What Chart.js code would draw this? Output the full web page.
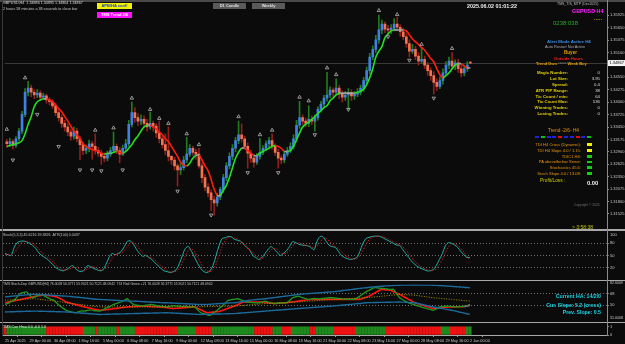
<!DOCTYPE html>
<html><head><meta charset="utf-8">
<script src="https://cdn.jsdelivr.net/npm/chart.js@4.4.1/dist/chart.umd.min.js"></script>
<style>
body{margin:0;background:#0b0b0b;width:625px;height:344px;overflow:hidden;position:relative;font-family:"Liberation Sans",Arial,sans-serif}
canvas{position:absolute;left:0}
.t{position:absolute;white-space:nowrap;line-height:1;font-size:4px;color:#ddd}
.b{font-weight:bold}
.r{text-align:right}
.ln{position:absolute;background:#9a9a9a}
.sq{position:absolute;height:2.5px;width:4px}
.row{font-size:4.3px}
.tr{font-size:4.1px;color:#e8950f}
</style></head><body>
<canvas id="cMain" width="625" height="229" style="top:0"></canvas>
<canvas id="cSto" width="625" height="49" style="top:231px"></canvas>
<canvas id="cTdi" width="625" height="41" style="top:281px"></canvas>
<canvas id="cHa" width="625" height="21" style="top:323px"></canvas>

<div class="ln" style="left:0;top:0;width:625px;height:1.5px;background:#4a4a4a"></div>
<div class="ln" style="left:0;top:229px;width:625px;height:2px;background:#a8a8a8"></div>
<div class="ln" style="left:0;top:280px;width:625px;height:1px;background:#a8a8a8"></div>
<div class="ln" style="left:0;top:322px;width:625px;height:1px;background:#a8a8a8"></div>
<div class="ln" style="left:2px;top:0;width:1px;height:336px;background:#3a3a3a"></div>

<div class="t" style="left:3px;top:2px;font-size:3.7px;color:#d8d8d8">GBPUSD,H4&nbsp; 1.34886 1.34895 1.34864 1.34867</div>
<div class="t" style="left:3px;top:7.5px;font-size:3.7px;color:#c8c8c8">2 hours 58 minutes a 38 seconds to close bar</div>
<div class="t b" style="left:97px;top:3px;width:35px;height:6px;background:#f2f200;color:#1a3ad0;text-align:center;line-height:6px">APB/HA conf!</div>
<div class="t b" style="left:97px;top:12px;width:35px;height:6px;background:#ff10ff;color:#fff;text-align:center;line-height:6px">TMS Trend 2/6</div>
<div class="t b" style="left:213px;top:3px;width:33px;height:6px;background:#5a5a5a;color:#e0e0e0;text-align:center;line-height:6px">D1 Candle</div>
<div class="t b" style="left:252px;top:3px;width:33px;height:6px;background:#5a5a5a;color:#e0e0e0;text-align:center;line-height:6px">Weekly</div>
<div class="t b" style="left:467px;top:3.5px;font-size:5.4px;color:#f0f0f0">2025.06.02 01:01:22</div>
<div class="t" style="left:557px;top:2.5px;font-size:3.5px;color:#bbb">TMS_TIS_MTP (Dec2025)</div>
<div class="t b" style="left:572px;top:8.5px;font-size:5.4px;color:#ff20ff">GBPUSD H4</div>
<div class="t" style="left:553px;top:20px;font-size:6px;color:#22b022">0238:038</div>
<div class="t b" style="left:594px;top:17px;font-size:5px;color:#b8a000">·····</div>

<div class="t b" style="left:547px;top:39.5px;font-size:4.4px;color:#3a8ee6">Alert Mode Active H4</div>
<div class="t" style="left:545px;top:45px;font-size:3.9px;color:#a8a8a8">Auto Restart Not Active</div>
<div class="t b" style="left:564px;top:50.5px;font-size:4.6px;color:#e2a000">Buyer</div>
<div class="t b" style="left:554px;top:56.5px;font-size:4.2px;color:#ff1e1e">Outside Hours</div>
<div class="t b" style="left:536px;top:62px;font-size:4.1px;color:#e2a000">Trend Dwn <span style="color:#888">°°°°°</span> Weak Buy</div>

<div class="t b r row" style="right:57px;top:71px;color:#e0d000">Magic Number:</div><div class="t r row" style="right:25px;top:71px">0</div>
<div class="t b r row" style="right:57px;top:77px;color:#e0d000">Lot Size:</div><div class="t r row" style="right:25px;top:77px">3.95</div>
<div class="t b r row" style="right:57px;top:82.5px;color:#e0d000">Spread:</div><div class="t r row" style="right:25px;top:82.5px">0.4</div>
<div class="t b r row" style="right:57px;top:89px;color:#e0d000">ATR PIP Range:</div><div class="t r row" style="right:25px;top:89px">38</div>
<div class="t b r row" style="right:57px;top:94.5px;color:#e0d000">Tic Count / min:</div><div class="t r row" style="right:25px;top:94.5px">64</div>
<div class="t b r row" style="right:57px;top:100px;color:#e0d000">Tic Count Max:</div><div class="t r row" style="right:25px;top:100px">536</div>
<div class="t b r row" style="right:57px;top:106px;color:#e0d000">Winning Trades:</div><div class="t r row" style="right:25px;top:106px">0</div>
<div class="t b r row" style="right:57px;top:112px;color:#e0d000">Losing Trades:</div><div class="t r row" style="right:25px;top:112px">0</div>

<div class="t" style="left:548px;top:128.5px;font-size:4.8px;color:#e8950f">Trend -2/6- H4</div>
<div class="sq" style="left:535px;top:135.5px;background:#2020e0"></div>
<div class="sq" style="left:540.8px;top:135.5px;background:#10c010"></div>
<div class="sq" style="left:546.6px;top:135.5px;background:#2020e0"></div>
<div class="sq" style="left:552.4px;top:135.5px;background:#2020e0"></div>
<div class="sq" style="left:558.2px;top:135.5px;background:#e01010"></div>
<div class="sq" style="left:564px;top:135.5px;background:#2020e0"></div>
<div class="sq" style="left:569.8px;top:135.5px;background:#2020e0"></div>
<div class="sq" style="left:575.6px;top:135.5px;background:#e01010"></div>
<div class="sq" style="left:581.4px;top:135.5px;background:#2020e0"></div>
<div class="sq" style="left:587.2px;top:135.5px;background:#10c010"></div>

<div class="t r tr" style="right:44px;top:142.5px">TDI H4 Cross (Dynamic):</div><div class="sq" style="left:587px;top:143px;width:5px;background:#f0f000"></div>
<div class="t r tr" style="right:44px;top:148.5px">TDI H4 Slope 4.0 / 1.15:</div><div class="sq" style="left:587px;top:149px;width:5px;background:#f0f000"></div>
<div class="t r tr" style="right:44px;top:154.5px">TDIC1 H4:</div><div class="sq" style="left:587px;top:155px;width:5px;background:#10d010"></div>
<div class="t r tr" style="right:44px;top:160px">PA above/below Senor:</div><div class="sq" style="left:587px;top:160.5px;width:5px;background:#10d010"></div>
<div class="t r tr" style="right:44px;top:165.5px">Stochastics 45.6:</div><div class="sq" style="left:587px;top:166px;width:5px;background:#10d010"></div>
<div class="t r tr" style="right:44px;top:171.5px">Stoch Slope 4.0 / 13.08:</div><div class="sq" style="left:587px;top:172px;width:5px;background:#10d010"></div>
<div class="t" style="left:540px;top:179px;font-size:4.8px;color:#c8c800">Profit/Loss :</div>
<div class="t b" style="left:587px;top:181px;font-size:5.8px;color:#f4f4f4">0.00</div>
<div class="t" style="left:574px;top:204px;font-size:3.3px;color:#707070">Copyright © 2025</div>
<div class="t" style="left:572px;top:225px;font-size:5px;color:#c8c800">&gt; 3:58:38</div>

<div class="t" style="left:3px;top:234px;font-size:3.6px;color:#c0c0c0">Stoch(5,3,3) 45.6216 39.3826&nbsp;&nbsp;ATR(100) 0.0037</div>
<div class="t" style="left:3px;top:283px;font-size:3.4px;color:#c0c0c0">TMS Stoch-Dep GBPUSD(H4) 76.0028 56.3771 55.9021 50.7121 48.0942&nbsp;&nbsp;TDI Red Green +21 76.0028 56.3771 55.9021 50.7121 48.0942</div>
<div class="t" style="left:610px;top:281.5px;font-size:3.6px;color:#c8c8c8">82.6009</div>
<div class="t" style="left:610px;top:316.5px;font-size:3.6px;color:#c8c8c8">31.0008</div>
<div class="t b r" style="right:24px;top:294px;font-size:5.2px;color:#1cd4e6">Current HA: 14/2/0</div>
<div class="t b r" style="right:24px;top:302.5px;font-size:5.2px;color:#1cd4e6">Cur. Slope: 5.2 (cross)</div>
<div class="t b r" style="right:24px;top:310px;font-size:5.2px;color:#1cd4e6">Prev. Slope: 0.5</div>
<div class="t" style="left:3px;top:325.5px;font-size:3.6px;color:#e8e8e8">TMS Con Hma 0.0 -0.0 1.0</div>

<script>
const timeLabels=["25 Apr 2025","29 Apr 00:00","30 Apr 08:00","1 May 16:00","5 May 00:00","6 May 08:00","7 May 16:00","9 May 00:00","12 May 08:00","13 May 16:00","15 May 00:00","16 May 08:00","19 May 16:00","21 May 00:00","22 May 08:00","23 May 16:00","27 May 00:00","28 May 08:00","29 May 16:00","2 Jun 00:00"];
const priceTicks=[1.35925,1.35650,1.35375,1.35100,1.34825,1.34550,1.34275,1.34000,1.33725,1.33450,1.33175,1.32900,1.32625,1.32350,1.32075,1.31800,1.31525];
const curPrice=1.34867;

const opens=[1.3312,1.3308,1.3313,1.3304,1.3319,1.3336,1.3373,1.3422,1.3431,1.3422,
1.3416,1.3420,1.3411,1.3414,1.3405,1.3401,1.3392,1.3377,1.3366,1.3353,
1.3345,1.3334,1.3325,1.3336,1.3319,1.3306,1.3293,1.3298,1.3308,1.3302,
1.3293,1.3287,1.3280,1.3276,1.3285,1.3293,1.3302,1.3293,1.3285,1.3298,
1.3308,1.3351,1.3377,1.3366,1.3358,1.3362,1.3353,1.3345,1.3353,1.3347,
1.3332,1.3319,1.3306,1.3293,1.3280,1.3272,1.3259,1.3250,1.3255,1.3272,
1.3285,1.3298,1.3289,1.3285,1.3259,1.3233,1.3212,1.3199,1.3184,1.3177,
1.3190,1.3207,1.3233,1.3259,1.3280,1.3298,1.3315,1.3328,1.3319,1.3302,
1.3287,1.3276,1.3267,1.3280,1.3289,1.3298,1.3308,1.3315,1.3302,1.3289,
1.3276,1.3272,1.3285,1.3293,1.3302,1.3319,1.3349,1.3366,1.3358,1.3353,
1.3362,1.3358,1.3366,1.3384,1.3396,1.3409,1.3416,1.3427,1.3422,1.3431,
1.3418,1.3411,1.3416,1.3422,1.3414,1.3418,1.3422,1.3431,1.3448,1.3470,
1.3500,1.3517,1.3538,1.3560,1.3573,1.3562,1.3560,1.3564,1.3573,1.3566,
1.3556,1.3545,1.3530,1.3513,1.3517,1.3502,1.3491,1.3495,1.3482,1.3470,
1.3459,1.3444,1.3435,1.3448,1.3465,1.3482,1.3491,1.3480,1.3487,1.3474,
1.3465,1.3474,1.34886];
const highs=[1.3318,1.3320,1.3317,1.3324,1.3342,1.3380,1.3430,1.3446,1.3438,1.3428,
1.3428,1.3426,1.3420,1.3418,1.3410,1.3406,1.3398,1.3384,1.3372,1.3360,
1.3352,1.3340,1.3345,1.3342,1.3325,1.3312,1.3305,1.3316,1.3313,1.3330,
1.3300,1.3294,1.3288,1.3292,1.3300,1.3334,1.3308,1.3300,1.3305,1.3318,
1.3360,1.3400,1.3388,1.3375,1.3372,1.3370,1.3362,1.3378,1.3358,1.3352,
1.3358,1.3325,1.3330,1.3346,1.3282,1.3278,1.3264,1.3264,1.3280,1.3322,
1.3306,1.3302,1.3296,1.3298,1.3265,1.3240,1.3220,1.3206,1.3192,1.3198,
1.3212,1.3240,1.3266,1.3288,1.3306,1.3322,1.3358,1.3352,1.3325,1.3310,
1.3294,1.3284,1.3286,1.3320,1.3304,1.3314,1.3322,1.3330,1.3308,1.3296,
1.3282,1.3292,1.3300,1.3310,1.3328,1.3360,1.3402,1.3372,1.3365,1.3392,
1.3370,1.3372,1.3390,1.3402,1.3415,1.3466,1.3434,1.3432,1.3452,1.3438,
1.3426,1.3424,1.3430,1.3428,1.3424,1.3430,1.3438,1.3455,1.3478,1.3508,
1.3525,1.3548,1.3593,1.3582,1.3578,1.3570,1.3572,1.3585,1.3588,1.3572,
1.3564,1.3552,1.3538,1.3528,1.3524,1.3510,1.3520,1.3502,1.3488,1.3476,
1.3468,1.3452,1.3456,1.3474,1.3490,1.3500,1.3510,1.3494,1.3495,1.3482,
1.3482,1.3490,1.34895];
const lows=[1.3300,1.3302,1.3296,1.3300,1.3314,1.3330,1.3368,1.3414,1.3412,1.3408,
1.3410,1.3404,1.3406,1.3398,1.3394,1.3386,1.3370,1.3358,1.3344,1.3336,
1.3326,1.3316,1.3318,1.3312,1.3272,1.3284,1.3286,1.3290,1.3274,1.3285,
1.3280,1.3262,1.3268,1.3270,1.3280,1.3288,1.3286,1.3266,1.3282,1.3292,
1.3302,1.3345,1.3355,1.3348,1.3350,1.3344,1.3336,1.3340,1.3336,1.3322,
1.3310,1.3298,1.3284,1.3270,1.3262,1.3250,1.3214,1.3240,1.3250,1.3266,
1.3280,1.3282,1.3274,1.3254,1.3222,1.3204,1.3190,1.3160,1.3150,1.3170,
1.3184,1.3200,1.3226,1.3252,1.3272,1.3290,1.3308,1.3312,1.3296,1.3254,
1.3266,1.3256,1.3262,1.3274,1.3284,1.3292,1.3300,1.3296,1.3282,1.3254,
1.3264,1.3266,1.3280,1.3288,1.3296,1.3312,1.3342,1.3350,1.3346,1.3346,
1.3350,1.3336,1.3360,1.3378,1.3390,1.3402,1.3410,1.3412,1.3416,1.3408,
1.3400,1.3404,1.3384,1.3404,1.3406,1.3412,1.3416,1.3424,1.3442,1.3462,
1.3494,1.3510,1.3530,1.3552,1.3554,1.3550,1.3552,1.3558,1.3558,1.3546,
1.3538,1.3522,1.3500,1.3508,1.3494,1.3482,1.3486,1.3474,1.3460,1.3448,
1.3418,1.3426,1.3430,1.3440,1.3458,1.3474,1.3472,1.3472,1.3466,1.3456,
1.3458,1.3468,1.34864];
const closes=[1.3308,1.3313,1.3304,1.3319,1.3336,1.3373,1.3422,1.3431,1.3422,1.3416,
1.3420,1.3411,1.3414,1.3405,1.3401,1.3392,1.3377,1.3366,1.3353,1.3345,
1.3334,1.3325,1.3336,1.3319,1.3306,1.3293,1.3298,1.3308,1.3302,1.3293,
1.3287,1.3280,1.3276,1.3285,1.3293,1.3302,1.3293,1.3285,1.3298,1.3308,
1.3351,1.3377,1.3366,1.3358,1.3362,1.3353,1.3345,1.3353,1.3347,1.3332,
1.3319,1.3306,1.3293,1.3280,1.3272,1.3259,1.3250,1.3255,1.3272,1.3285,
1.3298,1.3289,1.3285,1.3259,1.3233,1.3212,1.3199,1.3184,1.3177,1.3190,
1.3207,1.3233,1.3259,1.3280,1.3298,1.3315,1.3328,1.3319,1.3302,1.3287,
1.3276,1.3267,1.3280,1.3289,1.3298,1.3308,1.3315,1.3302,1.3289,1.3276,
1.3272,1.3285,1.3293,1.3302,1.3319,1.3349,1.3366,1.3358,1.3353,1.3362,
1.3358,1.3366,1.3384,1.3396,1.3409,1.3416,1.3427,1.3422,1.3431,1.3418,
1.3411,1.3416,1.3422,1.3414,1.3418,1.3422,1.3431,1.3448,1.3470,1.3500,
1.3517,1.3538,1.3560,1.3573,1.3562,1.3560,1.3564,1.3573,1.3566,1.3556,
1.3545,1.3530,1.3513,1.3517,1.3502,1.3491,1.3495,1.3482,1.3470,1.3459,
1.3444,1.3435,1.3448,1.3465,1.3482,1.3491,1.3480,1.3487,1.3474,1.3465,
1.3474,1.3482,1.34867];
const trendMA=[1.3302,1.3304,1.3306,1.3308,1.3310,1.3315,1.3330,1.3351,1.3368,1.3390,
1.3401,1.3405,1.3407,1.3407,1.3405,1.3401,1.3394,1.3386,1.3379,1.3368,
1.3358,1.3347,1.3336,1.3328,1.3319,1.3308,1.3302,1.3298,1.3295,1.3293,
1.3291,1.3287,1.3285,1.3287,1.3287,1.3289,1.3291,1.3289,1.3287,1.3291,
1.3298,1.3306,1.3317,1.3325,1.3336,1.3345,1.3349,1.3349,1.3345,1.3341,
1.3334,1.3328,1.3319,1.3313,1.3302,1.3291,1.3280,1.3267,1.3261,1.3259,
1.3265,1.3276,1.3282,1.3282,1.3272,1.3259,1.3248,1.3229,1.3207,1.3194,
1.3194,1.3205,1.3216,1.3233,1.3255,1.3276,1.3289,1.3298,1.3298,1.3293,
1.3287,1.3282,1.3282,1.3287,1.3291,1.3295,1.3298,1.3302,1.3304,1.3302,
1.3298,1.3291,1.3291,1.3293,1.3302,1.3317,1.3332,1.3345,1.3351,1.3356,
1.3362,1.3368,1.3375,1.3381,1.3388,1.3392,1.3403,1.3409,1.3416,1.3420,
1.3420,1.3420,1.3420,1.3420,1.3420,1.3422,1.3424,1.3429,1.3439,1.3454,
1.3474,1.3500,1.3513,1.3523,1.3543,1.3551,1.3558,1.3560,1.3560,1.3560,
1.3560,1.3558,1.3549,1.3540,1.3534,1.3528,1.3521,1.3515,1.3506,1.3497,
1.3489,1.3474,1.3461,1.3454,1.3459,1.3465,1.3474,1.3482,1.3485,1.3485,
1.3480,1.3476,1.3476];
const upMarkBars=[0,6,29,35,41,47,50,53,59,63,76,83,87,96,99,105,108,122,128,136,146];
const upMarkVals=[1.3340,1.3454,1.3338,1.3343,1.3409,1.3384,1.3364,1.3353,1.3330,1.3306,1.3368,1.3328,1.3338,1.3411,1.3403,1.3476,1.3461,1.3603,1.3594,1.3528,1.3519];
const dnMarkBars=[2,10,17,24,28,31,38,56,67,79,89,101,112,125,132,140];
const dnMarkVals=[1.3272,1.3373,1.3302,1.3250,1.3250,1.3248,1.3250,1.3203,1.3150,1.3244,1.3244,1.3328,1.3384,1.3545,1.3493,1.3409];

const stochMain=[55,52,50,70,82,85,86,84,80,75,68,57,50,45,40,32,25,18,14,12,
15,20,25,18,12,10,15,25,22,18,15,12,14,28,45,55,52,55,60,72,
85,86,78,65,55,48,50,45,40,32,25,18,12,10,8,10,15,30,50,68,
72,60,45,30,18,10,8,12,25,50,75,92,94,97,96,90,88,85,78,70,
64,50,45,40,45,55,65,72,65,58,50,55,62,72,84,82,78,76,75,74,
70,64,85,97,96,85,75,72,70,60,50,45,42,40,42,45,60,80,92,95,
97,98,98,96,92,88,84,80,76,75,65,55,45,35,28,22,18,15,12,12,
15,25,40,55,75,82,80,76,70,60,52,45,45.6];
const stochSignal=[52,53,52,57,67,79,84,85,83,80,74,67,58,51,45,39,32,25,19,15,
14,16,20,21,18,13,12,17,21,22,18,15,14,18,29,43,51,54,56,62,
72,81,83,76,66,56,51,48,44,39,32,25,18,13,10,9,11,18,32,49,
63,67,59,45,31,19,12,10,15,29,50,72,87,94,96,94,91,86,80,71,
64,57,50,45,43,47,55,64,67,65,58,54,56,63,73,79,81,79,76,75,
73,69,73,82,93,93,85,77,72,67,60,52,46,42,41,42,49,62,77,89,
95,97,98,97,95,92,88,84,80,77,72,65,55,45,36,28,23,18,15,13,
13,17,27,40,57,71,79,79,75,68,58,48,39.4];

const tdiUpper=[62.8,63.3,63.8,64.3,64.8,65.2,65.6,66,66.4,66.7,66.7,66.6,66.4,66.1,65.8,65.5,65.2,64.9,64.6,64.3,
64,63.6,63.1,62.7,62.2,61.7,61.2,60.7,60.2,59.7,59.3,59,58.7,58.5,58.2,57.9,57.6,57.4,57.1,56.9,
56.6,56.4,56.4,56.1,55.9,55.6,55.4,55.1,54.9,54.6,54.4,54.1,53.9,53.8,53.5,53.3,53.1,52.8,52.6,52.4,
52.1,51.9,51.6,51.4,51.3,51.3,51.4,51.6,51.9,52.2,52.5,52.8,53.1,53.4,53.6,53.8,54.5,55.3,56.1,56.9,
57.6,58.2,58.7,59.2,59.6,60,60.6,61.2,61.8,62.4,63,63.6,64.2,64.8,65.4,66,66.7,67.1,67.5,67.8,
68.2,68.5,68.8,69.2,69.6,70,70.3,70.5,71.1,71.7,72.3,72.9,73.5,74.1,74.7,75.3,75.9,76.4,77,77.5,
78,78.4,78.8,79.1,79.5,79.8,80.1,80.4,80.6,80.8,80.9,81,81,81.1,81.1,81.1,81,81,80.9,80.9,
80.8,80.6,80.3,80,79.7,79.4,79,78.7,78.3,78,77.6,77.3,77];
const tdiLower=[39.7,39.8,40,40.1,40.3,40.4,40.6,40.7,40.9,41,41,40.9,40.8,40.6,40.5,40.4,40.3,40.1,40,39.8,
39.7,39.4,39,38.7,38.3,38,37.6,37.3,36.9,36.5,36.2,35.9,36,36.1,36.2,36.4,36.5,36.6,36.7,36.8,
37,37.1,37.2,37.3,37.4,37.6,37.7,37.8,37.9,38.1,38.2,38.3,38.4,38.5,38.3,38,37.8,37.5,37.3,37,
36.8,36.5,36.3,36,35.9,36,36.1,36.2,36.4,36.5,36.6,36.7,36.8,37,37.1,37.2,37.6,38,38.3,38.7,
39.1,39.5,39.9,40.2,40.6,41,41.4,41.7,42.1,42.4,42.8,43.1,43.5,43.9,44.2,44.6,44.9,45.3,45.6,46,
46.3,46.7,47,47.4,47.7,48.1,48.4,48.7,49.2,49.6,50.1,50.5,51,51.4,51.9,52.4,52.8,53.3,53.8,54,
54.1,54.2,54.3,54.4,54.5,54.6,54.7,54.8,54.9,55,54.8,54.6,54.3,54.1,53.8,52.7,51.7,50.6,49.5,48.5,
47.4,46.6,45.7,44.9,44,43.2,42.3,41.3,40.2,39.1,38.1,37,35.9];
const tdiBase=[57.7,58,58.2,58.5,58.7,59,59.2,59.5,59.7,60,59.9,59.5,58.9,58.3,57.7,57.1,56.5,55.9,55.3,54.6,
53.8,53.2,52.6,52,51.5,50.9,50.3,49.7,49.1,48.6,48,47.4,47.4,47.4,47.4,47.4,47.4,47.4,47.4,47.4,
47.4,47.4,47.4,47.4,47.4,47.4,47.4,47.4,47.4,47.4,47.4,47.4,47.4,47.4,47.4,47.5,47.5,47.6,47.6,47.7,
47.7,47.7,47.8,47.8,47.8,47.9,48,48.1,48.2,48.2,48.3,48.4,48.5,48.5,48.6,48.7,49.1,49.5,49.9,50.3,
50.7,51,51.4,51.8,52.2,52.6,52.8,53,53.3,53.5,53.7,53.9,54.1,54.3,54.6,54.8,55,55.4,55.7,56.1,
56.4,56.8,57.2,57.5,57.9,58.3,58.6,59,59.2,59.5,59.7,59.9,60.2,60.4,60.6,60.8,61.1,61.3,61.5,62,
62.5,62.9,63.4,63.9,64.3,64.8,65.3,65.7,66.2,66.7,66.4,66.2,65.9,65.7,65.4,64.8,64.1,63.5,62.8,62.2,
61.5,61.1,60.7,60.2,59.8,59.4,59,58.5,58.1,57.7,57.2,56.8,56.4];
const tdiSignal=[53.8,54.8,55.8,56.7,57.7,58.7,59.7,60.8,61.8,62.8,63.7,64.6,65.4,65.3,65,64.5,63.8,62.8,60.5,57.8,
55,53.7,52.4,51.1,49.8,48.6,47.4,46.4,45.3,44.3,43.3,42.3,42.7,43.2,43.6,44.2,44.9,45.5,46.1,46.8,
47.4,47.7,48,48.2,48.5,48.7,48.5,48.3,48,47.8,47.6,47.4,46.8,46.1,45.5,44.9,45.3,45.6,46,46.4,
46.7,47.1,47.4,45.2,43,40.7,38.5,39,39.5,39.9,40.4,42,43.7,45.3,47,48.7,50.8,52.9,55,55,
55,55,55,55,55,54.4,53.8,53.2,52.6,52.9,53.2,53.5,53.8,54.5,55.1,55.8,56.4,57.1,57.7,58.4,
59,59,59,59,59,59,59,59,59,59,59,59,59,59,59,59,59,60.7,62.3,64,
66.6,69.2,71.8,74.4,73.9,73.5,73,70.9,68.8,66.7,64.1,61.5,58.9,56.4,53.8,52.3,50.8,49.4,47.9,46.4,
44.9,45.4,45.9,46.4,46.9,47.4,47.5,47.6,47.6,47.7,47.8,48.9,50];
const tdiRsi=[51.3,53,55.5,57.7,63,68,69.5,70.5,66,61.5,63.5,65.5,66.7,64,61.5,59,57.7,53,49,45.5,
42.3,40.5,39.5,38.5,40,41.5,41,42.3,43,41.8,41.5,41,43,45.5,47.4,50,52,53.8,55,57.5,
60,55,51.3,50,49.5,48.7,50,50.5,51.3,50,49,48.5,48,47.4,48.5,49.5,49,48.7,48,48.5,
47,47.5,47.4,43,38.5,37,35.5,34.6,37.5,41,45,48.7,53,57.7,58.5,59.2,60,58.5,56.5,55,
54.5,54,53.8,53.8,55,56.4,55,53.5,52.6,53.2,53.5,53.8,53.8,57,61.5,63,64,62,60.5,59,
59.5,60.5,60,60,60.5,61,61.5,61.5,61,60.5,60,59.5,59.2,59,59,61,64,67.5,70.5,73,
75.5,77,76.5,76,75.6,75,74.4,74.4,68,61.5,58.5,56,53.8,52,50.4,49,47.5,46,44.9,43.5,
42.3,44.5,47.4,48,48.5,48.7,48,47.5,47.4,48,48.5,49,51.3];
const haDir=[-1,1,1,1,1,1,1,1,1,1,1,1,1,1,-1,-1,-1,-1,-1,-1,
-1,-1,-1,-1,-1,-1,1,1,1,1,-1,1,1,1,1,1,1,-1,1,1,
1,1,1,-1,-1,-1,-1,-1,-1,-1,-1,-1,-1,-1,-1,-1,-1,1,1,1,
1,1,1,-1,-1,-1,-1,-1,1,1,1,1,1,1,1,1,1,1,1,1,
1,1,-1,-1,-1,-1,-1,-1,1,1,1,-1,-1,-1,1,1,1,1,1,1,
-1,-1,1,1,1,1,1,1,-1,-1,-1,-1,-1,-1,-1,1,1,1,1,1,
1,1,1,1,1,-1,-1,-1,-1,-1,-1,-1,-1,-1,-1,-1,-1,-1,-1,-1,
-1,-1,-1,1,1,1,-1,-1,-1,-1,-1,1,1];

Chart.defaults.font.family='"Liberation Sans", Arial, sans-serif';
Chart.defaults.font.size=4;
Chart.defaults.color='#c8c8c8';
const bars=closes.map((_,i)=>i);
const X0=-0.65, X1=196.8;
const xHidden={type:'linear',min:X0,max:X1,display:false,offset:false};
const base={responsive:false,animation:false,devicePixelRatio:1,maintainAspectRatio:false,
  plugins:{legend:{display:false},tooltip:{enabled:false}}};
function rightAxis(min,max,ticks,extra){
  return Object.assign({position:'right',min:min,max:max,
    afterFit(s){s.width=18;},
    afterBuildTicks(s){s.ticks=ticks.map(v=>({value:v}));},
    ticks:{color:'#c8c8c8',font:{size:4},padding:1,autoSkip:false},
    grid:{display:true,drawOnChartArea:false,drawTicks:true,tickLength:2,color:'#8a8a8a'},
    border:{display:true,color:'#8a8a8a',width:1}},extra||{});
}

const curPlugin={id:'cur',
  beforeDatasetsDraw(c){const y=c.scales.y.getPixelForValue(curPrice),a=c.chartArea,ctx=c.ctx;
    ctx.save();ctx.strokeStyle='#3a3a3a';ctx.lineWidth=1;ctx.beginPath();ctx.moveTo(a.left,Math.round(y)+0.5);ctx.lineTo(a.right,Math.round(y)+0.5);ctx.stroke();ctx.restore();},
  afterDraw(c){const y=c.scales.y.getPixelForValue(curPrice),a=c.chartArea,ctx=c.ctx;
    ctx.save();ctx.fillStyle='#f4f4f4';ctx.fillRect(a.right+1,y-3,17,6);
    ctx.fillStyle='#000';ctx.font='4px "Liberation Sans", Arial';ctx.textBaseline='middle';ctx.fillText(curPrice.toFixed(5),a.right+2.5,y+0.3);ctx.restore();}
};

new Chart(document.getElementById('cMain'),{
  type:'bar',
  data:{datasets:[
    {type:'bar',data:bars.map(i=>({x:i,y:[lows[i],highs[i]]})),
     backgroundColor:bars.map(i=>closes[i]>=opens[i]?'#1f7d1f':'#8e1d1d'),
     barThickness:1,grouped:false,order:4},
    {type:'bar',data:bars.map(i=>({x:i,y:[opens[i],closes[i]]})),
     backgroundColor:bars.map(i=>closes[i]>=opens[i]?'#4080e0':'#f2734f'),
     barThickness:2,minBarLength:1,grouped:false,order:3},
    {type:'line',data:bars.map(i=>({x:i,y:trendMA[i]})),borderWidth:1.6,pointRadius:0,tension:0.35,order:1,
     segment:{borderColor:ctx=>{const d=ctx.p1.parsed.y-ctx.p0.parsed.y;return d>0.00006?'#22e022':(d<-0.00006?'#ff1c10':'#a0a0a0');}}},
    {type:'scatter',data:upMarkBars.map((b,k)=>({x:b,y:upMarkVals[k]})),pointStyle:'triangle',pointRadius:2,
     backgroundColor:'rgba(0,0,0,0)',borderColor:'#b8b8b8',borderWidth:0.8,order:0},
    {type:'scatter',data:dnMarkBars.map((b,k)=>({x:b,y:dnMarkVals[k]})),pointStyle:'triangle',pointRadius:2,rotation:180,
     backgroundColor:'rgba(0,0,0,0)',borderColor:'#b8b8b8',borderWidth:0.8,order:0}
  ]},
  options:Object.assign({},base,{
    layout:{padding:{left:3,top:2,bottom:1,right:0}},
    scales:{x:xHidden,y:rightAxis(1.31298,1.36157,priceTicks,{ticks:{color:'#c8c8c8',font:{size:4},padding:1,autoSkip:false,callback:v=>v.toFixed(5)}})}
  }),
  plugins:[curPlugin]
});

new Chart(document.getElementById('cSto'),{
  type:'line',
  data:{datasets:[
    {data:bars.map(i=>({x:i,y:stochSignal[i]})),borderColor:'#c81818',borderWidth:1,borderDash:[1.5,1.5],pointRadius:0,tension:0.3},
    {data:bars.map(i=>({x:i,y:stochMain[i]})),borderColor:'#22b0a8',borderWidth:1,pointRadius:0,tension:0.3}
  ]},
  options:Object.assign({},base,{
    layout:{padding:{left:3,top:1,bottom:2,right:0}},
    scales:{x:xHidden,y:rightAxis(-2.27,102.27,[100,80,50,20],{
      grid:{display:true,drawOnChartArea:true,drawTicks:true,tickLength:2,
        color:c=>c.tick&&c.tick.value===100?'rgba(0,0,0,0)':'#707070'},
      border:{display:true,color:'#8a8a8a',dash:[1,2]}})}
  })
});

new Chart(document.getElementById('cTdi'),{
  type:'line',
  data:{datasets:[
    {data:bars.map(i=>({x:i,y:tdiUpper[i]})),borderColor:'#1b6a9c',borderWidth:1.4,pointRadius:0,tension:0.3},
    {data:bars.map(i=>({x:i,y:tdiLower[i]})),borderColor:'#1b6a9c',borderWidth:1.4,pointRadius:0,tension:0.3},
    {data:bars.map(i=>({x:i,y:tdiBase[i]})),borderColor:'#a89800',borderWidth:1,borderDash:[1,1.5],pointRadius:0,tension:0.3},
    {data:bars.map(i=>({x:i,y:tdiRsi[i]})),borderColor:'#1f9a1f',borderWidth:1.3,pointRadius:0,tension:0.2},
    {data:bars.map(i=>({x:i,y:tdiSignal[i]})),borderColor:'#ff1414',borderWidth:1.6,pointRadius:0,tension:0.3,
     segment:{borderColor:c=>c.p1DataIndex>=tdiSignal.length-2?'#ff30ff':'#ff1414'}}
  ]},
  options:Object.assign({},base,{
    layout:{padding:{left:3,top:0,bottom:0,right:0}},
    scales:{x:xHidden,y:rightAxis(29.49,82.05,[68,50],{
      grid:{display:true,drawOnChartArea:true,drawTicks:true,tickLength:2,color:'#707070'},
      border:{display:true,color:'#8a8a8a',dash:[1,2]}})}
  })
});

new Chart(document.getElementById('cHa'),{
  type:'bar',
  data:{datasets:[{data:bars.map(i=>({x:i,y:[0,1]})),
    backgroundColor:bars.map(i=>haDir[i]>0?'#1e8a1e':'#f01212'),barThickness:2.6,grouped:false}]},
  options:Object.assign({},base,{
    layout:{padding:{left:3,top:0,bottom:0,right:0}},
    scales:{
      x:{type:'linear',min:X0,max:X1,offset:false,
        afterFit(s){s.height=9;},
        afterBuildTicks(s){s.ticks=timeLabels.map((_,k)=>({value:k*8}));},
        ticks:{color:'#c8c8c8',font:{size:3.8},padding:1.5,autoSkip:false,maxRotation:0,minRotation:0,align:'start',
          callback:(v)=>timeLabels[Math.round(v/8)]},
        grid:{display:true,drawOnChartArea:false,drawTicks:true,tickLength:2,color:'#9a9a9a'},
        border:{display:true,color:'#a8a8a8'}},
      y:rightAxis(0,1,[1,0])
    }
  })
});
</script>
<div class="ln" style="left:607px;top:0;width:1px;height:336px;background:#8a8a8a"></div>
</body></html>
